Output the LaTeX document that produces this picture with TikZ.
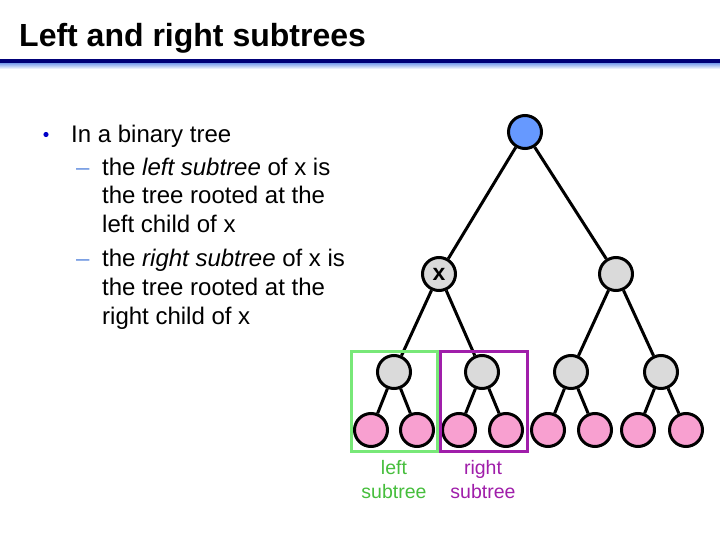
\documentclass[tikz,border=0pt]{standalone}
\usepackage{fontspec}
\setmainfont{Liberation Sans}
\definecolor{navy}{RGB}{0,0,120}
\definecolor{barlight}{RGB}{110,150,235}
\definecolor{rootblue}{RGB}{102,153,255}
\definecolor{nodegray}{RGB}{218,218,218}
\definecolor{leafpink}{RGB}{248,160,208}
\definecolor{boxgreen}{RGB}{120,232,120}
\definecolor{txtgreen}{RGB}{70,190,60}
\definecolor{boxpurple}{RGB}{160,30,170}
\definecolor{dashblue}{RGB}{110,150,225}
\definecolor{bulletblue}{RGB}{0,0,200}
\tikzset{
  tnode/.style={circle,draw=black,line width=3pt,minimum size=33pt,inner sep=0pt},
  rootnode/.style={tnode,fill=rootblue},
  inode/.style={tnode,fill=nodegray},
  leafnode/.style={tnode,fill=leafpink},
  edge/.style={line width=3pt,black},
  body/.style={anchor=base west,inner sep=0pt,font=\fontsize{24}{28}\selectfont},
  lbl/.style={anchor=base,inner sep=0pt,font=\fontsize{19.5}{23}\selectfont},
}
\begin{document}
\begin{tikzpicture}[x=1pt,y=-1pt]
\useasboundingbox (0,0) rectangle (720,540);
\fill[white] (0,0) rectangle (720,540);
% title
\node[anchor=base west,inner sep=0pt,font=\fontsize{32}{36}\selectfont\bfseries] (title) at (19,47) {Left and right subtrees};
\shade[top color=barlight,bottom color=white] (0,62.5) rectangle (720,69);
\fill[navy] (0,59.5) rectangle (720,63);
% bullet text
\fill[bulletblue] (46,134.5) circle (2.6);
\node[body] (l1) at (71,142.5) {In a binary tree};
\node[body,text=dashblue] (d1) at (76,175.5) {–};
\node[body] (l2) at (102,175.5) {the \textit{left subtree} of x is};
\node[body] (l3) at (102,204) {the tree rooted at the};
\node[body] (l4) at (102,232.5) {left child of x};
\node[body,text=dashblue] (d2) at (76,266.5) {–};
\node[body] (l5) at (102,266.5) {the \textit{right subtree} of x is};
\node[body] (l6) at (102,295.5) {the tree rooted at the};
\node[body] (l7) at (102,324) {right child of x};
% tree nodes
\node[rootnode] (r) at (525,132) {};
\node[inode,font=\fontsize{23}{26}\selectfont\bfseries] (x) at (439,274) {x};
\node[inode] (y) at (616,274) {};
\node[inode] (a) at (394,372) {};
\node[inode] (b) at (482,372) {};
\node[inode] (c) at (571,372) {};
\node[inode] (d) at (661,372) {};
\foreach \n/\px in {a1/371,a2/417,b1/459,b2/506,c1/548,c2/595,d1/638,d2/686}{
  \node[leafnode] (\n) at (\px,430) {};
}
% edges
\draw[edge] (r) -- (x);
\draw[edge] (r) -- (y);
\draw[edge] (x) -- (a);
\draw[edge] (x) -- (b);
\draw[edge] (y) -- (c);
\draw[edge] (y) -- (d);
\draw[edge] (a) -- (a1);
\draw[edge] (a) -- (a2);
\draw[edge] (b) -- (b1);
\draw[edge] (b) -- (b2);
\draw[edge] (c) -- (c1);
\draw[edge] (c) -- (c2);
\draw[edge] (d) -- (d1);
\draw[edge] (d) -- (d2);
% subtree boxes
\draw[boxgreen,line width=2.8pt] (351.5,351.5) rectangle (437.5,451.5);
\draw[boxpurple,line width=2.8pt] (440.5,351.5) rectangle (527.5,451.5);
% labels
\node[lbl,text=txtgreen] (lt1) at (394,474) {left};
\node[lbl,text=txtgreen] (lt2) at (394,498) {subtree};
\node[lbl,text=boxpurple] (rt1) at (483,474) {right};
\node[lbl,text=boxpurple] (rt2) at (483,498) {subtree};
\end{tikzpicture}
\end{document}
